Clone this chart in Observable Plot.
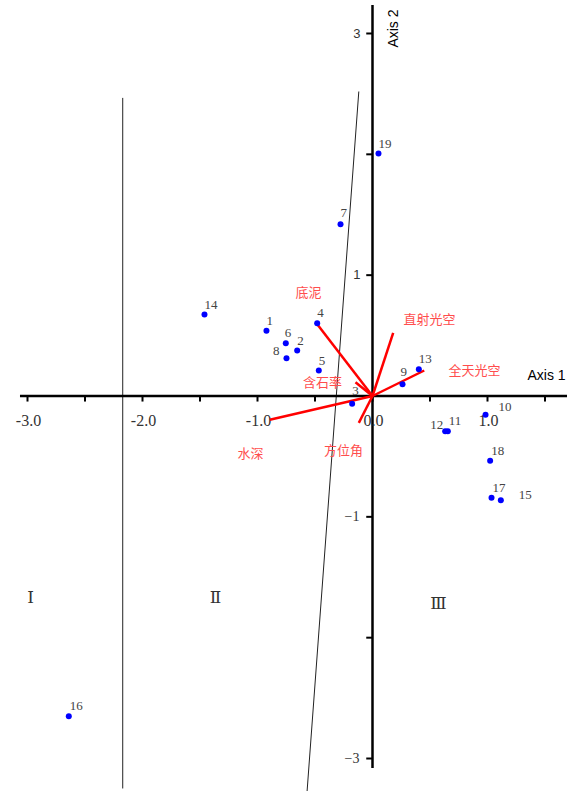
<!DOCTYPE html>
<html>
<head>
<meta charset="utf-8">
<script src="https://cdn.jsdelivr.net/npm/d3@7"></script>
<script src="https://cdn.jsdelivr.net/npm/@observablehq/plot@0.6"></script>
<style>
  html, body { margin: 0; padding: 0; background: #fff; }
  #chart svg { display: block; }
  g[aria-label="x-tick-labels"] text { letter-spacing: 2px; }
</style>
</head>
<body>
<div id="chart"></div>
<script>
// ---- Data ----
const siteIds = ["1","2","3","4","5","6","7","8","9","10","11","12","13","14","15","16","17","18","19"];
const siteAxis1 = [-0.922,-0.655,-0.177,-0.481,-0.467,-0.754,-0.278,-0.748,0.261,0.983,0.655,0.632,0.403,-1.461,1.116,-2.641,1.035,1.023,0.052];
const siteAxis2 = [0.540,0.377,-0.065,0.602,0.211,0.437,1.422,0.313,0.098,-0.156,-0.291,-0.291,0.222,0.674,-0.862,-2.650,-0.842,-0.536,2.007];

const envNames = ["底泥","直射光空","全天光空","含石率","水深","方位角"];
const envAxis1 = [-0.484,0.180,0.450,-0.148,-0.893,-0.119];
const envAxis2 = [0.598,0.523,0.211,0.114,-0.197,-0.222];
// label anchor coordinates for the environment vectors
const envLabelAxis1 = [-0.557,0.496,0.887,-0.435,-1.061,-0.252];
const envLabelAxis2 = [0.857,0.633,0.211,0.112,-0.476,-0.451];

const groupNames = ["Ⅰ","Ⅱ","Ⅲ"];
const groupAxis1 = [-2.974,-1.365,0.574];
const groupAxis2 = [-1.667,-1.667,-1.717];

// group boundary lines
const boundaryX1 = [-2.172,-0.119];
const boundaryY1 = [2.467,2.520];
const boundaryX2 = [-2.172,-0.569];
const boundaryY2 = [-3.248,-3.273];

const xTickValues = [-3,-2.5,-2,-1.5,-1,-0.5,0,0.5,1,1.5];
const xTickLabelValues = [-3,-2,-1,0,1];
const xTickLabels = ["-3.0","-2.0","-1.0","0.0","1.0"];
const yTickValues = [-3,-2,-1,0,1,2,3];
const yTickLabelValues = [3,1,-1,-3];
const yTickLabels = ["3","1","−1","−3"];

// ---- Build tables ----
const sites = siteIds.map((id,i)=>({id, x: siteAxis1[i], y: siteAxis2[i]}));
const envs = envNames.map((n,i)=>({name:n, x: envAxis1[i], y: envAxis2[i], lx: envLabelAxis1[i], ly: envLabelAxis2[i]}));
const groups = groupNames.map((n,i)=>({name:n, x: groupAxis1[i], y: groupAxis2[i]}));
const bounds = boundaryX1.map((v,i)=>({x1:v, y1:boundaryY1[i], x2:boundaryX2[i], y2:boundaryY2[i]}));
const xLabs = xTickLabelValues.map((v,i)=>({v, t: xTickLabels[i]}));
const yLabs = yTickLabelValues.map((v,i)=>({v, t: yTickLabels[i]}));

// label placement (pixels) per site label
const labelOffsets = {
  "1":[0,-10,"start"], "2":[0,-10,"start"], "3":[0,-13,"start"], "4":[0,-10,"start"],
  "5":[0,-10,"start"], "6":[-1,-10,"start"], "7":[0,-11,"start"], "8":[-7,-7,"end"],
  "9":[-2,-12,"start"], "10":[13,-8,"start"], "11":[1,-10,"start"], "12":[-2,-6,"end"],
  "13":[0,-10,"start"], "14":[0,-10,"start"], "15":[18,-5,"start"], "16":[1,-10,"start"],
  "17":[1,-10,"start"], "18":[1,-10,"start"], "19":[0,-10,"start"]
};

const serif = "'Liberation Serif', 'DejaVu Serif', serif";
const sans = "'Liberation Sans', Arial, sans-serif";
const cjk = "'Noto Sans CJK SC', sans-serif";

const siteLabelMarks = sites.map(d => {
  const [dx, dy, anchor] = labelOffsets[d.id];
  return Plot.text([d], {x:"x", y:"y", text:"id", dx, dy, textAnchor: anchor,
    fill:"#444", fontSize: 13, fontFamily: serif});
});

const chart = Plot.plot({
  width: 567,
  height: 791,
  marginTop: 0, marginRight: 0, marginBottom: 0, marginLeft: 0,
  x: {domain: [-3.2348, 1.6957], axis: null},
  y: {domain: [-3.273, 3.273], axis: null},
  style: {background: "#fff", overflow: "visible"},
  marks: [
    // boundaries
    Plot.link(bounds, {x1:"x1", y1:"y1", x2:"x2", y2:"y2", stroke:"#222", strokeWidth: 1}),
    // axes
    Plot.ruleY([0], {x1: -3.061, x2: 1.6957, stroke:"#000", strokeWidth: 2.5}),
    Plot.ruleX([0], {y1: 3.232, y2: -3.083, stroke:"#000", strokeWidth: 2.5}),
    Plot.ruleX(xTickValues, {x: d=>d, y1: 0, y2: -0.05, stroke:"#000", strokeWidth: 2}),
    Plot.ruleY(yTickValues, {y: d=>d, x1: -0.05, x2: 0, stroke:"#000", strokeWidth: 2}),
    Plot.text(xLabs, {x:"v", y: 0, text:"t", dx: 1, dy: 25, fill:"#333", fontSize: 16, fontFamily: serif, ariaLabel: "x-tick-labels"}),
    Plot.text(yLabs.filter(d=>d.v>0), {x: 0, y:"v", text:"t", dx: -12, textAnchor:"end", fill:"#333", fontSize: 13, fontFamily: sans}),
    Plot.text(yLabs.filter(d=>d.v<0), {x: 0, y:"v", text:"t", dx: -13, textAnchor:"end", fill:"#333", fontSize: 14, fontFamily: serif}),
    Plot.text(["Axis 1"], {x: 1.6957, y: 0, text: d=>d, dx: -40, dy: -20, textAnchor:"start", fill:"#000", fontSize: 14, fontFamily: sans}),
    Plot.text(["Axis 2"], {x: 0, y: 3.041, text: d=>d, dx: 21, rotate: -90, fill:"#000", fontSize: 14, fontFamily: sans}),
    // environment vectors
    Plot.link(envs, {x1: 0, y1: 0, x2:"x", y2:"y", stroke:"#ff0000", strokeWidth: 2.5}),
    Plot.text(envs, {x:"lx", y:"ly", text:"name", fill:"#ff4d4d", fontSize: 13, fontFamily: cjk}),
    // sites
    Plot.dot(sites, {x:"x", y:"y", r: 3, fill:"#0000ff", stroke: "none"}),
    ...siteLabelMarks,
    // groups
    Plot.text(groups, {x:"x", y:"y", text:"name", fill:"#333", fontSize: 17, fontFamily: "'DejaVu Serif', 'Liberation Serif', serif"})
  ]
});
document.getElementById("chart").append(chart);
</script>
</body>
</html>
